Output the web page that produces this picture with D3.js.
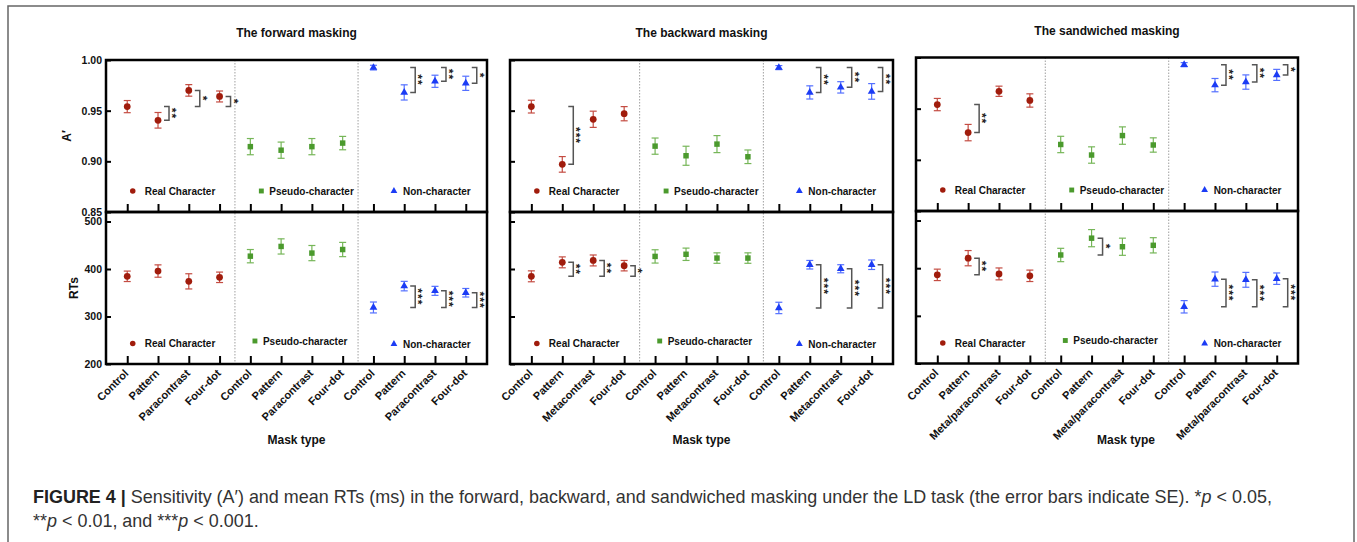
<!DOCTYPE html>
<html>
<head>
<meta charset="utf-8">
<script src="https://cdn.jsdelivr.net/npm/d3@7/dist/d3.min.js"></script>
<style>
    body { margin: 0; background: #fff; }
    svg { display: block; font-family: "Liberation Sans", Arial, sans-serif; }
    .stars { -webkit-font-smoothing: antialiased; text-rendering: geometricPrecision; }
</style>
</head>
<body>
<svg id="fig" width="1357" height="542"></svg>
<script>
// ---- data ----
const conditions = ['The forward masking', 'The backward masking', 'The sandwiched masking'];
const maskTypes = [
    ['Control', 'Pattern', 'Paracontrast', 'Four-dot'],
    ['Control', 'Pattern', 'Metacontrast', 'Four-dot'],
    ['Control', 'Pattern', 'Meta/paracontrast', 'Four-dot']
];
const groups = ['Real Character', 'Pseudo-character', 'Non-character'];
const aTicks = [0.85, 0.90, 0.95, 1.00];
const rtTicks = [200, 300, 400, 500];

// A' (sensitivity), rows = groups, cols = mask types
const aForward = [[0.954, 0.9405, 0.970, 0.964], [0.9145, 0.911, 0.9145, 0.918], [0.9925, 0.968, 0.979, 0.977]];
const aForwardSE = [[0.006, 0.0077, 0.0057, 0.0054], [0.008, 0.008, 0.008, 0.0066], [0.0023, 0.0075, 0.006, 0.007]];
const aBackward = [[0.954, 0.897, 0.9415, 0.947], [0.915, 0.9055, 0.917, 0.9045], [0.9925, 0.968, 0.973, 0.969]];
const aBackwardSE = [[0.0063, 0.0077, 0.008, 0.007], [0.008, 0.0094, 0.0084, 0.0067], [0.002, 0.0065, 0.0056, 0.0077]];
const aSandwich = [[0.954, 0.9266, 0.967, 0.958], [0.915, 0.9047, 0.9237, 0.9145], [0.993, 0.973, 0.976, 0.983]];
const aSandwichSE = [[0.006, 0.008, 0.005, 0.0065], [0.008, 0.008, 0.0085, 0.007], [0.002, 0.0065, 0.007, 0.0054]];

// mean RTs (ms)
const rtForward = [[384.6, 395.7, 374, 382.5], [427, 447.5, 433.5, 441], [319, 364, 354, 350]];
const rtForwardSE = [[11, 13, 16, 11], [14, 16, 16, 15], [11.5, 10, 9.5, 9]];
const rtBackward = [[384.6, 414, 418, 407], [426.5, 431, 423, 423], [318, 409, 400.5, 409]];
const rtBackwardSE = [[11.5, 11.5, 11.5, 11], [14, 13, 11, 11], [12, 9, 8.5, 10]];
const rtSandwich = [[386, 421, 388, 384], [427.7, 463, 445, 448], [319, 377, 375.6, 378]];
const rtSandwichSE = [[12, 16, 12.5, 12], [14, 18, 18, 16], [13, 15, 15.6, 12]];

// significance vs. Control: [condition, group, mask index, stars]
const aBrackets = [
    [0, 0, 1, '**'], [0, 0, 2, '*'], [0, 0, 3, '*'], [0, 2, 1, '**'], [0, 2, 2, '**'], [0, 2, 3, '*'],
    [1, 0, 1, '***'], [1, 2, 1, '**'], [1, 2, 2, '**'], [1, 2, 3, '**'],
    [2, 0, 1, '**'], [2, 2, 1, '**'], [2, 2, 2, '**'], [2, 2, 3, '*']
];
const rtBrackets = [
    [0, 2, 1, '***'], [0, 2, 2, '***'], [0, 2, 3, '***'],
    [1, 0, 1, '**'], [1, 0, 2, '**'], [1, 0, 3, '*'], [1, 2, 1, '***'], [1, 2, 2, '***'], [1, 2, 3, '***'],
    [2, 0, 1, '**'], [2, 1, 1, '*'], [2, 2, 1, '***'], [2, 2, 2, '***'], [2, 2, 3, '***']
];

// ---- style / layout ----
const markColors = ['#a01c0c', '#4b9a2d', '#1c3cf5'];
const barColors = ['#c44c42', '#76b658', '#5470ff'];
const symbols = [d3.symbolCircle, d3.symbolSquare, d3.symbolTriangle];
const symSize = [36, 30, 26];
const legSize = [24, 24, 20];

const frames = [
    { left: 106, right: 487, top: 60, mid: 212, bottom: 364, maskDx: 0 },
    { left: 510, right: 893, top: 60, mid: 212, bottom: 364, maskDx: 0 },
    { left: 916, right: 1298, top: 57.5, mid: 211, bottom: 363.5, maskDx: 19 }
];
// legend offsets from first point of each group
const legTop = [{ dx: 5.5, tx: 12, dy: -21 }, { dx: 11, tx: 8, dy: -21 }, { dx: 20.5, tx: 9, dy: -21 }];
const legBot = [{ dx: 5.5, tx: 12, dy: -20.5 }, { dx: 4.6, tx: 8, dy: -23 }, { dx: 20.5, tx: 9, dy: -20 }];

const aMeans = [aForward, aBackward, aSandwich];
const aErrs = [aForwardSE, aBackwardSE, aSandwichSE];
const rtMeans = [rtForward, rtBackward, rtSandwich];
const rtErrs = [rtForwardSE, rtBackwardSE, rtSandwichSE];

const svg = d3.select('#fig');

// outer figure frame
svg.append('rect')
    .attr('x', 8).attr('y', 6)
    .attr('width', 1346).attr('height', 545)
    .attr('fill', 'none')
    .attr('stroke', '#666')
    .attr('stroke-width', 1.5);

conditions.forEach((cond, p) => {
    let f = frames[p];
    let g = svg.append('g').attr('class', 'panel');

    let x = d3.scalePoint().domain(d3.range(12)).range([f.left, f.right]).padding(0.69);
    let yA = d3.scaleLinear().domain([0.85, 1.0]).range([f.mid, f.top]);
    let yR = d3.scaleLinear().domain([200, 520]).range([f.bottom, f.mid]);

    // title
    g.append('text')
        .attr('x', (f.left + f.right) / 2)
        .attr('y', f.top - 23)
        .attr('text-anchor', 'middle')
        .attr('font-size', 12)
        .attr('font-weight', 'bold')
        .attr('fill', '#111')
        .text(cond);

    // group dividers (dotted)
    [3, 7].forEach(i => {
        g.append('line')
            .attr('x1', (x(i) + x(i + 1)) / 2).attr('x2', (x(i) + x(i + 1)) / 2)
            .attr('y1', f.top).attr('y2', f.bottom)
            .attr('stroke', '#888')
            .attr('stroke-width', 0.8)
            .attr('stroke-dasharray', '1.5,1.5');
    });

    // y axes (ticks inward, labels only on first panel)
    let fmtA = p === 0 ? d3.format('.2f') : () => '';
    let fmtR = p === 0 ? d3.format('d') : () => '';
    let ya = g.append('g')
        .attr('transform', `translate(${f.left},0)`)
        .call(d3.axisLeft(yA).tickValues(aTicks).tickSizeInner(-5).tickSizeOuter(0).tickPadding(4).tickFormat(fmtA));
    let yr = g.append('g')
        .attr('transform', `translate(${f.left},0)`)
        .call(d3.axisLeft(yR).tickValues(rtTicks).tickSizeInner(-5).tickSizeOuter(0).tickPadding(4).tickFormat(fmtR));
    [ya, yr].forEach(a => {
        a.select('.domain').remove();
        a.selectAll('line').attr('stroke', '#000').attr('stroke-width', 2);
        a.selectAll('text').attr('font-size', 10.5).attr('font-weight', 'bold').attr('fill', '#111');
    });

    // x axes (ticks inward)
    let xTop = g.append('g')
        .attr('transform', `translate(0,${f.mid})`)
        .call(d3.axisBottom(x).tickSizeInner(-8).tickSizeOuter(0).tickFormat(() => ''));
    let xBot = g.append('g')
        .attr('transform', `translate(0,${f.bottom})`)
        .call(d3.axisBottom(x).tickSizeInner(-8).tickSizeOuter(0).tickFormat(() => ''));
    [xTop, xBot].forEach(a => {
        a.select('.domain').remove();
        a.selectAll('line').attr('stroke', '#000').attr('stroke-width', 2);
    });

    // rotated category labels
    let labels = d3.range(12).map(i => maskTypes[p][i % 4]);
    g.selectAll('.xlab')
        .data(labels)
        .enter().append('text')
        .attr('class', 'xlab')
        .attr('transform', (d, i) => `translate(${x(i) + 2},${f.bottom + 10}) rotate(-45)`)
        .attr('text-anchor', 'end')
        .attr('font-size', 11)
        .attr('font-weight', 'bold')
        .attr('fill', '#111')
        .text(d => d);

    g.append('text')
        .attr('x', (f.left + f.right) / 2 + f.maskDx)
        .attr('y', 444)
        .attr('text-anchor', 'middle')
        .attr('font-size', 12)
        .attr('font-weight', 'bold')
        .attr('fill', '#111')
        .text('Mask type');

    // frames
    [[f.top, f.mid], [f.mid, f.bottom]].forEach(([t, b]) => {
        g.append('rect')
            .attr('x', f.left).attr('y', t)
            .attr('width', f.right - f.left).attr('height', b - t)
            .attr('fill', 'none')
            .attr('stroke', '#000')
            .attr('stroke-width', 2.5);
    });

    // data points with error bars
    let addSeries = (means, errs, y) => {
        groups.forEach((grp, gi) => {
            means[p][gi].forEach((m, j) => {
                let cx = x(gi * 4 + j);
                let se = errs[p][gi][j];
                let eb = g.append('g').attr('stroke', barColors[gi]).attr('stroke-width', 1.2);
                eb.append('line').attr('x1', cx).attr('x2', cx).attr('y1', y(m - se)).attr('y2', y(m + se));
                eb.append('line').attr('x1', cx - 3.5).attr('x2', cx + 3.5).attr('y1', y(m - se)).attr('y2', y(m - se));
                eb.append('line').attr('x1', cx - 3.5).attr('x2', cx + 3.5).attr('y1', y(m + se)).attr('y2', y(m + se));
                g.append('path')
                    .attr('transform', `translate(${cx},${y(m)})`)
                    .attr('d', d3.symbol(symbols[gi], symSize[gi])())
                    .attr('fill', markColors[gi]);
            });
        });
    };
    addSeries(aMeans, aErrs, yA);
    addSeries(rtMeans, rtErrs, yR);

    // legends
    let addLegend = (pos, base) => {
        groups.forEach((grp, gi) => {
            let lx = x(gi * 4) + pos[gi].dx;
            let ly = base + pos[gi].dy;
            g.append('path')
                .attr('transform', `translate(${lx},${ly})`)
                .attr('d', d3.symbol(symbols[gi], legSize[gi])())
                .attr('fill', markColors[gi]);
            g.append('text')
                .attr('x', lx + pos[gi].tx)
                .attr('y', ly + 3.6)
                .attr('font-size', 10)
                .attr('font-weight', 'bold')
                .attr('fill', '#111')
                .text(grp);
        });
    };
    addLegend(legTop, f.mid);
    addLegend(legBot, f.bottom);

    // significance brackets; stars read top-to-bottom (rotated text)
    let addBrackets = (list, means, y) => {
        list.filter(b => b[0] === p).forEach(([, gi, j, stars]) => {
            let bx = x(gi * 4 + j);
            let y0 = y(means[p][gi][0]);
            let y1 = y(means[p][gi][j]);
            g.append('path')
                .attr('d', `M${bx + 6},${y0}H${bx + 11}V${y1}H${bx + 6}`)
                .attr('fill', 'none')
                .attr('stroke', '#555')
                .attr('stroke-width', 1.5);
            g.append('text')
                .attr('class', 'stars')
                .attr('transform', `translate(${bx + 17},${(y0 + y1) / 2}) rotate(90)`)
                .attr('text-anchor', 'middle')
                .attr('dy', '0.57em')
                .attr('font-size', 12)
                .attr('font-weight', 'bold')
                .attr('letter-spacing', 1)
                .attr('fill', '#222')
                .text(stars);
        });
    };
    addBrackets(aBrackets, aMeans, yA);
    addBrackets(rtBrackets, rtMeans, yR);

    // y titles on the first panel only
    if (p === 0) {
        g.append('text')
            .attr('transform', `translate(71,${(f.top + f.mid) / 2}) rotate(-90)`)
            .attr('text-anchor', 'middle')
            .attr('font-size', 12)
            .attr('font-weight', 'bold')
            .attr('fill', '#111')
            .text('A\u2032');
        g.append('text')
            .attr('transform', `translate(77.5,${(f.mid + f.bottom) / 2}) rotate(-90)`)
            .attr('text-anchor', 'middle')
            .attr('font-size', 12)
            .attr('font-weight', 'bold')
            .attr('fill', '#111')
            .text('RTs');
    }
});

// caption
let cap = svg.append('g').attr('fill', '#333').attr('font-size', 16);
let l1 = cap.append('text').attr('x', 33).attr('y', 503);
l1.append('tspan').attr('font-weight', 'bold').attr('fill', '#222').text('FIGURE 4 | ');
l1.append('tspan').text('Sensitivity (A\u2032) and mean RTs (ms) in the forward, backward, and sandwiched masking under the LD task (the error bars indicate SE). *');
l1.append('tspan').attr('font-style', 'italic').text('p');
l1.append('tspan').text(' < 0.05,');
let l2 = cap.append('text').attr('x', 33).attr('y', 527);
l2.append('tspan').text('**');
l2.append('tspan').attr('font-style', 'italic').text('p');
l2.append('tspan').text(' < 0.01, and ***');
l2.append('tspan').attr('font-style', 'italic').text('p');
l2.append('tspan').text(' < 0.001.');

// fit first caption line to its width in the figure
let w1 = l1.node().getComputedTextLength();
cap.attr('font-size', 16 * 1240 / w1);
</script>
</body>
</html>
